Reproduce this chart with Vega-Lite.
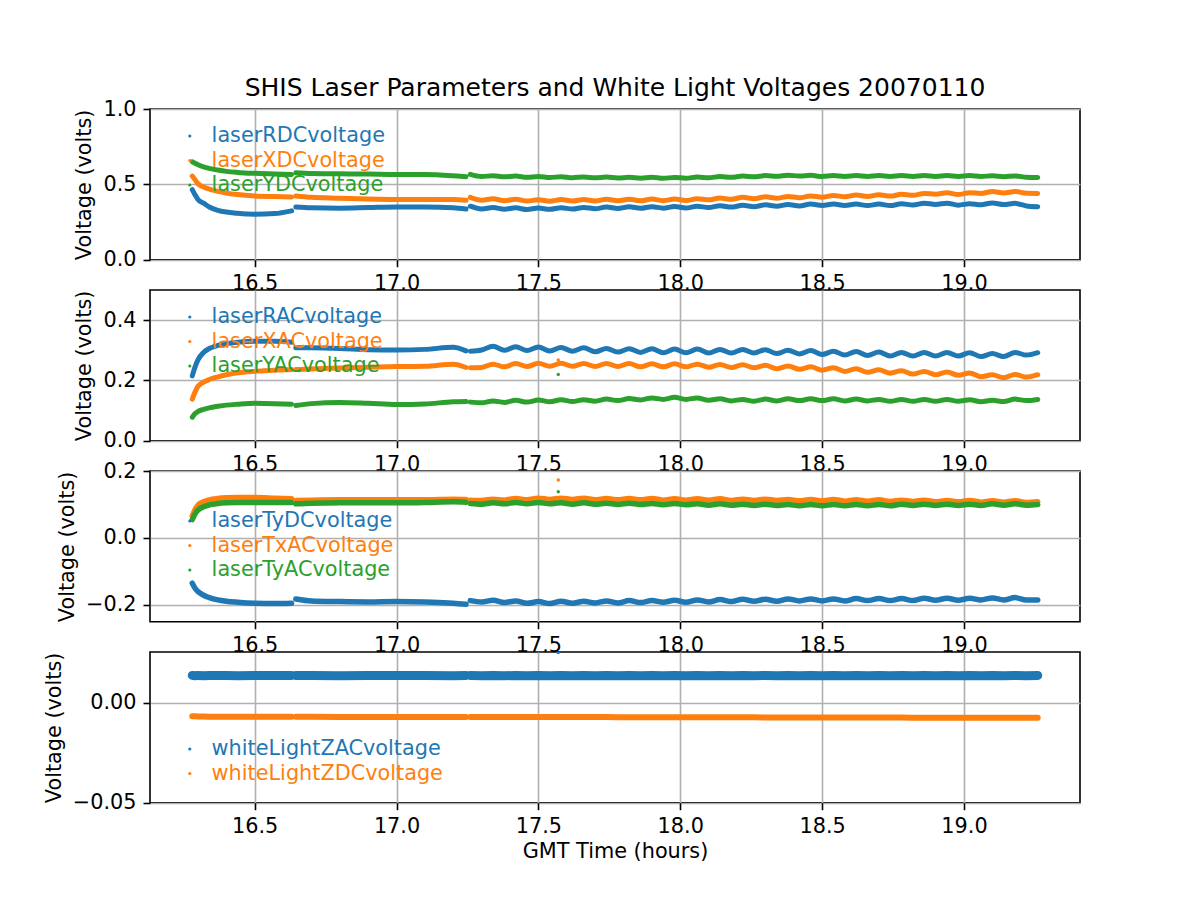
{
  "$schema": "https://vega.github.io/schema/vega-lite/v6.json",
  "background": "white",
  "padding": {"left": 42, "top": 75, "right": 10, "bottom": 10},
  "config": {
    "font": "DejaVu Sans",
    "view": {"stroke": "black", "strokeWidth": 1.6},
    "axis": {
      "labelFont": "DejaVu Sans", "labelFontSize": 20.8, "labelColor": "black",
      "titleFont": "DejaVu Sans", "titleFontSize": 20.8, "titleFontWeight": "normal", "titleColor": "black",
      "domain": false, "tickColor": "black", "tickWidth": 1.6, "tickSize": 7, "labelPadding": 7,
      "grid": true, "gridColor": "#b0b0b0", "gridWidth": 1.6, "gridOpacity": 1,
      "labelFlush": false, "labelOverlap": false
    },
    "axisY": {"titlePadding": 8},
    "axisX": {"titlePadding": 5},
    "legend": {
      "title": null, "orient": "none", "legendX": 29.4, "symbolType": "circle", "symbolSize": 10,
      "symbolStrokeWidth": 0, "labelFont": "DejaVu Sans", "labelFontSize": 20.8, "labelOffset": 11.4,
      "rowPadding": 2.5, "padding": 0, "labelLimit": 0
    }
  },
  "datasets": {
    "volts": [
      {"t":16.28,"seg":"a","laserRDCvoltage":0.465,"laserXDCvoltage":0.555,"laserYDCvoltage":0.650,"laserRACvoltage":0.215,"laserXACvoltage":0.138,"laserYACvoltage":0.078,"laserTyDCvoltage":-0.135,"laserTxACvoltage":0.065,"laserTyACvoltage":0.055,"whiteLightZACvoltage":0.0136,"whiteLightZDCvoltage":-0.0068},
      {"t":16.29,"seg":"a","laserRDCvoltage":0.430,"laserXDCvoltage":0.530,"laserYDCvoltage":0.640,"laserRACvoltage":0.245,"laserXACvoltage":0.162,"laserYACvoltage":0.090,"laserTyDCvoltage":-0.150,"laserTxACvoltage":0.085,"laserTyACvoltage":0.072,"whiteLightZACvoltage":0.0134,"whiteLightZDCvoltage":-0.0068},
      {"t":16.30,"seg":"a","laserRDCvoltage":0.400,"laserXDCvoltage":0.504,"laserYDCvoltage":0.630,"laserRACvoltage":0.268,"laserXACvoltage":0.180,"laserYACvoltage":0.097,"laserTyDCvoltage":-0.160,"laserTxACvoltage":0.098,"laserTyACvoltage":0.083,"whiteLightZACvoltage":0.0136,"whiteLightZDCvoltage":-0.0069},
      {"t":16.32,"seg":"a","laserRDCvoltage":0.375,"laserXDCvoltage":0.482,"laserYDCvoltage":0.616,"laserRACvoltage":0.293,"laserXACvoltage":0.194,"laserYACvoltage":0.104,"laserTyDCvoltage":-0.171,"laserTxACvoltage":0.108,"laserTyACvoltage":0.093,"whiteLightZACvoltage":0.0134,"whiteLightZDCvoltage":-0.0069},
      {"t":16.34,"seg":"a","laserRDCvoltage":0.350,"laserXDCvoltage":0.468,"laserYDCvoltage":0.606,"laserRACvoltage":0.306,"laserXACvoltage":0.203,"laserYACvoltage":0.109,"laserTyDCvoltage":-0.178,"laserTxACvoltage":0.114,"laserTyACvoltage":0.099,"whiteLightZACvoltage":0.0136,"whiteLightZDCvoltage":-0.0070},
      {"t":16.37,"seg":"a","laserRDCvoltage":0.328,"laserXDCvoltage":0.453,"laserYDCvoltage":0.595,"laserRACvoltage":0.316,"laserXACvoltage":0.212,"laserYACvoltage":0.114,"laserTyDCvoltage":-0.185,"laserTxACvoltage":0.118,"laserTyACvoltage":0.103,"whiteLightZACvoltage":0.0135,"whiteLightZDCvoltage":-0.0070},
      {"t":16.40,"seg":"a","laserRDCvoltage":0.316,"laserXDCvoltage":0.442,"laserYDCvoltage":0.586,"laserRACvoltage":0.322,"laserXACvoltage":0.219,"laserYACvoltage":0.118,"laserTyDCvoltage":-0.189,"laserTxACvoltage":0.120,"laserTyACvoltage":0.105,"whiteLightZACvoltage":0.0136,"whiteLightZDCvoltage":-0.0070},
      {"t":16.44,"seg":"a","laserRDCvoltage":0.308,"laserXDCvoltage":0.432,"laserYDCvoltage":0.579,"laserRACvoltage":0.327,"laserXACvoltage":0.225,"laserYACvoltage":0.121,"laserTyDCvoltage":-0.192,"laserTxACvoltage":0.121,"laserTyACvoltage":0.106,"whiteLightZACvoltage":0.0134,"whiteLightZDCvoltage":-0.0070},
      {"t":16.50,"seg":"a","laserRDCvoltage":0.302,"laserXDCvoltage":0.423,"laserYDCvoltage":0.573,"laserRACvoltage":0.330,"laserXACvoltage":0.230,"laserYACvoltage":0.124,"laserTyDCvoltage":-0.195,"laserTxACvoltage":0.121,"laserTyACvoltage":0.106,"whiteLightZACvoltage":0.0136,"whiteLightZDCvoltage":-0.0071},
      {"t":16.57,"seg":"a","laserRDCvoltage":0.306,"laserXDCvoltage":0.419,"laserYDCvoltage":0.569,"laserRACvoltage":0.330,"laserXACvoltage":0.234,"laserYACvoltage":0.123,"laserTyDCvoltage":-0.196,"laserTxACvoltage":0.119,"laserTyACvoltage":0.106,"whiteLightZACvoltage":0.0135,"whiteLightZDCvoltage":-0.0071},
      {"t":16.63,"seg":"a","laserRDCvoltage":0.324,"laserXDCvoltage":0.416,"laserYDCvoltage":0.566,"laserRACvoltage":0.327,"laserXACvoltage":0.236,"laserYACvoltage":0.121,"laserTyDCvoltage":-0.195,"laserTxACvoltage":0.117,"laserTyACvoltage":0.106,"whiteLightZACvoltage":0.0136,"whiteLightZDCvoltage":-0.0071},
      {"t":16.645,"seg":"b","laserRDCvoltage":0.350,"laserXDCvoltage":0.423,"laserYDCvoltage":0.577,"laserRACvoltage":0.308,"laserXACvoltage":0.236,"laserYACvoltage":0.117,"laserTyDCvoltage":-0.182,"laserTxACvoltage":0.112,"laserTyACvoltage":0.102,"whiteLightZACvoltage":0.0135,"whiteLightZDCvoltage":-0.0071},
      {"t":16.70,"seg":"b","laserRDCvoltage":0.345,"laserXDCvoltage":0.414,"laserYDCvoltage":0.572,"laserRACvoltage":0.308,"laserXACvoltage":0.238,"laserYACvoltage":0.123,"laserTyDCvoltage":-0.188,"laserTxACvoltage":0.113,"laserTyACvoltage":0.104,"whiteLightZACvoltage":0.0136,"whiteLightZDCvoltage":-0.0071},
      {"t":16.80,"seg":"b","laserRDCvoltage":0.342,"laserXDCvoltage":0.408,"laserYDCvoltage":0.570,"laserRACvoltage":0.306,"laserXACvoltage":0.241,"laserYACvoltage":0.127,"laserTyDCvoltage":-0.190,"laserTxACvoltage":0.114,"laserTyACvoltage":0.105,"whiteLightZACvoltage":0.0134,"whiteLightZDCvoltage":-0.0072},
      {"t":16.90,"seg":"b","laserRDCvoltage":0.346,"laserXDCvoltage":0.402,"laserYDCvoltage":0.568,"laserRACvoltage":0.302,"laserXACvoltage":0.244,"laserYACvoltage":0.124,"laserTyDCvoltage":-0.191,"laserTxACvoltage":0.114,"laserTyACvoltage":0.105,"whiteLightZACvoltage":0.0136,"whiteLightZDCvoltage":-0.0072},
      {"t":17.00,"seg":"b","laserRDCvoltage":0.350,"laserXDCvoltage":0.399,"laserYDCvoltage":0.565,"laserRACvoltage":0.301,"laserXACvoltage":0.246,"laserYACvoltage":0.120,"laserTyDCvoltage":-0.190,"laserTxACvoltage":0.114,"laserTyACvoltage":0.105,"whiteLightZACvoltage":0.0135,"whiteLightZDCvoltage":-0.0072},
      {"t":17.10,"seg":"b","laserRDCvoltage":0.350,"laserXDCvoltage":0.400,"laserYDCvoltage":0.565,"laserRACvoltage":0.303,"laserXACvoltage":0.247,"laserYACvoltage":0.122,"laserTyDCvoltage":-0.191,"laserTxACvoltage":0.114,"laserTyACvoltage":0.106,"whiteLightZACvoltage":0.0136,"whiteLightZDCvoltage":-0.0072},
      {"t":17.20,"seg":"b","laserRDCvoltage":0.345,"laserXDCvoltage":0.399,"laserYDCvoltage":0.557,"laserRACvoltage":0.310,"laserXACvoltage":0.254,"laserYACvoltage":0.129,"laserTyDCvoltage":-0.195,"laserTxACvoltage":0.116,"laserTyACvoltage":0.108,"whiteLightZACvoltage":0.0134,"whiteLightZDCvoltage":-0.0072},
      {"t":17.245,"seg":"b","laserRDCvoltage":0.336,"laserXDCvoltage":0.394,"laserYDCvoltage":0.551,"laserRACvoltage":0.298,"laserXACvoltage":0.243,"laserYACvoltage":0.130,"laserTyDCvoltage":-0.198,"laserTxACvoltage":0.115,"laserTyACvoltage":0.107,"whiteLightZACvoltage":0.0136,"whiteLightZDCvoltage":-0.0072},
      {"t":17.26,"seg":"c","laserRDCvoltage":0.355,"laserXDCvoltage":0.414,"laserYDCvoltage":0.566,"laserRACvoltage":0.297,"laserXACvoltage":0.242,"laserYACvoltage":0.128,"laserTyDCvoltage":-0.187,"laserTxACvoltage":0.113,"laserTyACvoltage":0.103,"whiteLightZACvoltage":0.0136,"whiteLightZDCvoltage":-0.0072},
      {"t":17.30,"seg":"c","laserRDCvoltage":0.337,"laserXDCvoltage":0.395,"laserYDCvoltage":0.552,"laserRACvoltage":0.301,"laserXACvoltage":0.243,"laserYACvoltage":0.126,"laserTyDCvoltage":-0.191,"laserTxACvoltage":0.112,"laserTyACvoltage":0.101,"whiteLightZACvoltage":0.0134,"whiteLightZDCvoltage":-0.0072},
      {"t":17.34,"seg":"c","laserRDCvoltage":0.346,"laserXDCvoltage":0.404,"laserYDCvoltage":0.557,"laserRACvoltage":0.313,"laserXACvoltage":0.254,"laserYACvoltage":0.132,"laserTyDCvoltage":-0.186,"laserTxACvoltage":0.116,"laserTyACvoltage":0.105,"whiteLightZACvoltage":0.0136,"whiteLightZDCvoltage":-0.0072},
      {"t":17.38,"seg":"c","laserRDCvoltage":0.335,"laserXDCvoltage":0.392,"laserYDCvoltage":0.550,"laserRACvoltage":0.300,"laserXACvoltage":0.245,"laserYACvoltage":0.127,"laserTyDCvoltage":-0.193,"laserTxACvoltage":0.113,"laserTyACvoltage":0.102,"whiteLightZACvoltage":0.0134,"whiteLightZDCvoltage":-0.0072},
      {"t":17.42,"seg":"c","laserRDCvoltage":0.344,"laserXDCvoltage":0.401,"laserYDCvoltage":0.555,"laserRACvoltage":0.312,"laserXACvoltage":0.256,"laserYACvoltage":0.134,"laserTyDCvoltage":-0.188,"laserTxACvoltage":0.118,"laserTyACvoltage":0.106,"whiteLightZACvoltage":0.0136,"whiteLightZDCvoltage":-0.0072},
      {"t":17.46,"seg":"c","laserRDCvoltage":0.333,"laserXDCvoltage":0.389,"laserYDCvoltage":0.547,"laserRACvoltage":0.299,"laserXACvoltage":0.246,"laserYACvoltage":0.128,"laserTyDCvoltage":-0.195,"laserTxACvoltage":0.114,"laserTyACvoltage":0.102,"whiteLightZACvoltage":0.0134,"whiteLightZDCvoltage":-0.0072},
      {"t":17.50,"seg":"c","laserRDCvoltage":0.343,"laserXDCvoltage":0.398,"laserYDCvoltage":0.552,"laserRACvoltage":0.311,"laserXACvoltage":0.257,"laserYACvoltage":0.135,"laserTyDCvoltage":-0.190,"laserTxACvoltage":0.119,"laserTyACvoltage":0.106,"whiteLightZACvoltage":0.0136,"whiteLightZDCvoltage":-0.0072},
      {"t":17.54,"seg":"c","laserRDCvoltage":0.334,"laserXDCvoltage":0.388,"laserYDCvoltage":0.545,"laserRACvoltage":0.298,"laserXACvoltage":0.247,"laserYACvoltage":0.129,"laserTyDCvoltage":-0.196,"laserTxACvoltage":0.115,"laserTyACvoltage":0.102,"whiteLightZACvoltage":0.0134,"whiteLightZDCvoltage":-0.0072},
      {"t":17.58,"seg":"c","laserRDCvoltage":0.345,"laserXDCvoltage":0.399,"laserYDCvoltage":0.551,"laserRACvoltage":0.309,"laserXACvoltage":0.257,"laserYACvoltage":0.136,"laserTyDCvoltage":-0.189,"laserTxACvoltage":0.119,"laserTyACvoltage":0.105,"whiteLightZACvoltage":0.0136,"whiteLightZDCvoltage":-0.0072},
      {"t":17.62,"seg":"c","laserRDCvoltage":0.336,"laserXDCvoltage":0.389,"laserYDCvoltage":0.544,"laserRACvoltage":0.297,"laserXACvoltage":0.247,"laserYACvoltage":0.130,"laserTyDCvoltage":-0.195,"laserTxACvoltage":0.115,"laserTyACvoltage":0.101,"whiteLightZACvoltage":0.0134,"whiteLightZDCvoltage":-0.0072},
      {"t":17.66,"seg":"c","laserRDCvoltage":0.347,"laserXDCvoltage":0.400,"laserYDCvoltage":0.549,"laserRACvoltage":0.308,"laserXACvoltage":0.256,"laserYACvoltage":0.136,"laserTyDCvoltage":-0.189,"laserTxACvoltage":0.119,"laserTyACvoltage":0.105,"whiteLightZACvoltage":0.0136,"whiteLightZDCvoltage":-0.0072},
      {"t":17.70,"seg":"c","laserRDCvoltage":0.338,"laserXDCvoltage":0.390,"laserYDCvoltage":0.543,"laserRACvoltage":0.295,"laserXACvoltage":0.246,"laserYACvoltage":0.131,"laserTyDCvoltage":-0.194,"laserTxACvoltage":0.114,"laserTyACvoltage":0.101,"whiteLightZACvoltage":0.0134,"whiteLightZDCvoltage":-0.0072},
      {"t":17.74,"seg":"c","laserRDCvoltage":0.350,"laserXDCvoltage":0.401,"laserYDCvoltage":0.548,"laserRACvoltage":0.306,"laserXACvoltage":0.256,"laserYACvoltage":0.138,"laserTyDCvoltage":-0.188,"laserTxACvoltage":0.118,"laserTyACvoltage":0.104,"whiteLightZACvoltage":0.0136,"whiteLightZDCvoltage":-0.0072},
      {"t":17.78,"seg":"c","laserRDCvoltage":0.340,"laserXDCvoltage":0.391,"laserYDCvoltage":0.542,"laserRACvoltage":0.294,"laserXACvoltage":0.246,"laserYACvoltage":0.133,"laserTyDCvoltage":-0.194,"laserTxACvoltage":0.114,"laserTyACvoltage":0.100,"whiteLightZACvoltage":0.0134,"whiteLightZDCvoltage":-0.0073},
      {"t":17.82,"seg":"c","laserRDCvoltage":0.351,"laserXDCvoltage":0.401,"laserYDCvoltage":0.547,"laserRACvoltage":0.305,"laserXACvoltage":0.256,"laserYACvoltage":0.140,"laserTyDCvoltage":-0.187,"laserTxACvoltage":0.118,"laserTyACvoltage":0.104,"whiteLightZACvoltage":0.0136,"whiteLightZDCvoltage":-0.0073},
      {"t":17.86,"seg":"c","laserRDCvoltage":0.341,"laserXDCvoltage":0.391,"laserYDCvoltage":0.541,"laserRACvoltage":0.293,"laserXACvoltage":0.245,"laserYACvoltage":0.135,"laserTyDCvoltage":-0.193,"laserTxACvoltage":0.114,"laserTyACvoltage":0.100,"whiteLightZACvoltage":0.0134,"whiteLightZDCvoltage":-0.0073},
      {"t":17.90,"seg":"c","laserRDCvoltage":0.352,"laserXDCvoltage":0.402,"laserYDCvoltage":0.547,"laserRACvoltage":0.305,"laserXACvoltage":0.255,"laserYACvoltage":0.142,"laserTyDCvoltage":-0.187,"laserTxACvoltage":0.118,"laserTyACvoltage":0.103,"whiteLightZACvoltage":0.0136,"whiteLightZDCvoltage":-0.0073},
      {"t":17.94,"seg":"c","laserRDCvoltage":0.342,"laserXDCvoltage":0.392,"laserYDCvoltage":0.540,"laserRACvoltage":0.292,"laserXACvoltage":0.245,"laserYACvoltage":0.137,"laserTyDCvoltage":-0.192,"laserTxACvoltage":0.113,"laserTyACvoltage":0.099,"whiteLightZACvoltage":0.0134,"whiteLightZDCvoltage":-0.0073},
      {"t":17.98,"seg":"c","laserRDCvoltage":0.353,"laserXDCvoltage":0.402,"laserYDCvoltage":0.546,"laserRACvoltage":0.304,"laserXACvoltage":0.255,"laserYACvoltage":0.144,"laserTyDCvoltage":-0.186,"laserTxACvoltage":0.117,"laserTyACvoltage":0.103,"whiteLightZACvoltage":0.0136,"whiteLightZDCvoltage":-0.0073},
      {"t":18.02,"seg":"c","laserRDCvoltage":0.343,"laserXDCvoltage":0.393,"laserYDCvoltage":0.541,"laserRACvoltage":0.292,"laserXACvoltage":0.245,"laserYACvoltage":0.137,"laserTyDCvoltage":-0.192,"laserTxACvoltage":0.113,"laserTyACvoltage":0.099,"whiteLightZACvoltage":0.0134,"whiteLightZDCvoltage":-0.0073},
      {"t":18.06,"seg":"c","laserRDCvoltage":0.355,"laserXDCvoltage":0.405,"laserYDCvoltage":0.548,"laserRACvoltage":0.304,"laserXACvoltage":0.254,"laserYACvoltage":0.142,"laserTyDCvoltage":-0.185,"laserTxACvoltage":0.117,"laserTyACvoltage":0.102,"whiteLightZACvoltage":0.0136,"whiteLightZDCvoltage":-0.0073},
      {"t":18.10,"seg":"c","laserRDCvoltage":0.346,"laserXDCvoltage":0.397,"laserYDCvoltage":0.544,"laserRACvoltage":0.291,"laserXACvoltage":0.244,"laserYACvoltage":0.134,"laserTyDCvoltage":-0.191,"laserTxACvoltage":0.113,"laserTyACvoltage":0.098,"whiteLightZACvoltage":0.0134,"whiteLightZDCvoltage":-0.0073},
      {"t":18.14,"seg":"c","laserRDCvoltage":0.358,"laserXDCvoltage":0.409,"laserYDCvoltage":0.552,"laserRACvoltage":0.303,"laserXACvoltage":0.253,"laserYACvoltage":0.139,"laserTyDCvoltage":-0.184,"laserTxACvoltage":0.117,"laserTyACvoltage":0.102,"whiteLightZACvoltage":0.0136,"whiteLightZDCvoltage":-0.0073},
      {"t":18.18,"seg":"c","laserRDCvoltage":0.349,"laserXDCvoltage":0.401,"laserYDCvoltage":0.547,"laserRACvoltage":0.291,"laserXACvoltage":0.243,"laserYACvoltage":0.132,"laserTyDCvoltage":-0.190,"laserTxACvoltage":0.112,"laserTyACvoltage":0.098,"whiteLightZACvoltage":0.0134,"whiteLightZDCvoltage":-0.0073},
      {"t":18.22,"seg":"c","laserRDCvoltage":0.361,"laserXDCvoltage":0.414,"laserYDCvoltage":0.555,"laserRACvoltage":0.303,"laserXACvoltage":0.252,"laserYACvoltage":0.137,"laserTyDCvoltage":-0.183,"laserTxACvoltage":0.116,"laserTyACvoltage":0.101,"whiteLightZACvoltage":0.0136,"whiteLightZDCvoltage":-0.0073},
      {"t":18.26,"seg":"c","laserRDCvoltage":0.352,"laserXDCvoltage":0.405,"laserYDCvoltage":0.550,"laserRACvoltage":0.291,"laserXACvoltage":0.242,"laserYACvoltage":0.131,"laserTyDCvoltage":-0.189,"laserTxACvoltage":0.112,"laserTyACvoltage":0.097,"whiteLightZACvoltage":0.0134,"whiteLightZDCvoltage":-0.0073},
      {"t":18.30,"seg":"c","laserRDCvoltage":0.364,"laserXDCvoltage":0.417,"laserYDCvoltage":0.558,"laserRACvoltage":0.302,"laserXACvoltage":0.250,"laserYACvoltage":0.138,"laserTyDCvoltage":-0.183,"laserTxACvoltage":0.116,"laserTyACvoltage":0.101,"whiteLightZACvoltage":0.0136,"whiteLightZDCvoltage":-0.0074},
      {"t":18.34,"seg":"c","laserRDCvoltage":0.355,"laserXDCvoltage":0.408,"laserYDCvoltage":0.553,"laserRACvoltage":0.289,"laserXACvoltage":0.239,"laserYACvoltage":0.132,"laserTyDCvoltage":-0.189,"laserTxACvoltage":0.112,"laserTyACvoltage":0.097,"whiteLightZACvoltage":0.0134,"whiteLightZDCvoltage":-0.0074},
      {"t":18.38,"seg":"c","laserRDCvoltage":0.366,"laserXDCvoltage":0.420,"laserYDCvoltage":0.561,"laserRACvoltage":0.300,"laserXACvoltage":0.248,"laserYACvoltage":0.139,"laserTyDCvoltage":-0.182,"laserTxACvoltage":0.115,"laserTyACvoltage":0.100,"whiteLightZACvoltage":0.0136,"whiteLightZDCvoltage":-0.0074},
      {"t":18.42,"seg":"c","laserRDCvoltage":0.357,"laserXDCvoltage":0.411,"laserYDCvoltage":0.555,"laserRACvoltage":0.288,"laserXACvoltage":0.237,"laserYACvoltage":0.133,"laserTyDCvoltage":-0.188,"laserTxACvoltage":0.111,"laserTyACvoltage":0.096,"whiteLightZACvoltage":0.0134,"whiteLightZDCvoltage":-0.0074},
      {"t":18.46,"seg":"c","laserRDCvoltage":0.369,"laserXDCvoltage":0.423,"laserYDCvoltage":0.560,"laserRACvoltage":0.299,"laserXACvoltage":0.245,"laserYACvoltage":0.139,"laserTyDCvoltage":-0.182,"laserTxACvoltage":0.115,"laserTyACvoltage":0.100,"whiteLightZACvoltage":0.0136,"whiteLightZDCvoltage":-0.0074},
      {"t":18.50,"seg":"c","laserRDCvoltage":0.360,"laserXDCvoltage":0.415,"laserYDCvoltage":0.552,"laserRACvoltage":0.286,"laserXACvoltage":0.234,"laserYACvoltage":0.133,"laserTyDCvoltage":-0.188,"laserTxACvoltage":0.111,"laserTyACvoltage":0.096,"whiteLightZACvoltage":0.0134,"whiteLightZDCvoltage":-0.0074},
      {"t":18.54,"seg":"c","laserRDCvoltage":0.370,"laserXDCvoltage":0.426,"laserYDCvoltage":0.558,"laserRACvoltage":0.297,"laserXACvoltage":0.242,"laserYACvoltage":0.139,"laserTyDCvoltage":-0.182,"laserTxACvoltage":0.115,"laserTyACvoltage":0.100,"whiteLightZACvoltage":0.0136,"whiteLightZDCvoltage":-0.0074},
      {"t":18.58,"seg":"c","laserRDCvoltage":0.360,"laserXDCvoltage":0.418,"laserYDCvoltage":0.552,"laserRACvoltage":0.284,"laserXACvoltage":0.230,"laserYACvoltage":0.132,"laserTyDCvoltage":-0.188,"laserTxACvoltage":0.110,"laserTyACvoltage":0.096,"whiteLightZACvoltage":0.0134,"whiteLightZDCvoltage":-0.0074},
      {"t":18.62,"seg":"c","laserRDCvoltage":0.369,"laserXDCvoltage":0.429,"laserYDCvoltage":0.558,"laserRACvoltage":0.296,"laserXACvoltage":0.239,"laserYACvoltage":0.138,"laserTyDCvoltage":-0.181,"laserTxACvoltage":0.114,"laserTyACvoltage":0.100,"whiteLightZACvoltage":0.0136,"whiteLightZDCvoltage":-0.0074},
      {"t":18.66,"seg":"c","laserRDCvoltage":0.359,"laserXDCvoltage":0.420,"laserYDCvoltage":0.552,"laserRACvoltage":0.283,"laserXACvoltage":0.227,"laserYACvoltage":0.132,"laserTyDCvoltage":-0.187,"laserTxACvoltage":0.110,"laserTyACvoltage":0.096,"whiteLightZACvoltage":0.0134,"whiteLightZDCvoltage":-0.0074},
      {"t":18.70,"seg":"c","laserRDCvoltage":0.369,"laserXDCvoltage":0.431,"laserYDCvoltage":0.558,"laserRACvoltage":0.294,"laserXACvoltage":0.235,"laserYACvoltage":0.137,"laserTyDCvoltage":-0.181,"laserTxACvoltage":0.114,"laserTyACvoltage":0.100,"whiteLightZACvoltage":0.0136,"whiteLightZDCvoltage":-0.0074},
      {"t":18.74,"seg":"c","laserRDCvoltage":0.359,"laserXDCvoltage":0.422,"laserYDCvoltage":0.552,"laserRACvoltage":0.281,"laserXACvoltage":0.224,"laserYACvoltage":0.131,"laserTyDCvoltage":-0.187,"laserTxACvoltage":0.109,"laserTyACvoltage":0.096,"whiteLightZACvoltage":0.0134,"whiteLightZDCvoltage":-0.0074},
      {"t":18.78,"seg":"c","laserRDCvoltage":0.371,"laserXDCvoltage":0.434,"laserYDCvoltage":0.558,"laserRACvoltage":0.293,"laserXACvoltage":0.232,"laserYACvoltage":0.137,"laserTyDCvoltage":-0.181,"laserTxACvoltage":0.113,"laserTyACvoltage":0.101,"whiteLightZACvoltage":0.0136,"whiteLightZDCvoltage":-0.0074},
      {"t":18.82,"seg":"c","laserRDCvoltage":0.363,"laserXDCvoltage":0.427,"laserYDCvoltage":0.552,"laserRACvoltage":0.281,"laserXACvoltage":0.221,"laserYACvoltage":0.131,"laserTyDCvoltage":-0.187,"laserTxACvoltage":0.109,"laserTyACvoltage":0.097,"whiteLightZACvoltage":0.0134,"whiteLightZDCvoltage":-0.0075},
      {"t":18.86,"seg":"c","laserRDCvoltage":0.375,"laserXDCvoltage":0.440,"laserYDCvoltage":0.558,"laserRACvoltage":0.293,"laserXACvoltage":0.230,"laserYACvoltage":0.137,"laserTyDCvoltage":-0.180,"laserTxACvoltage":0.113,"laserTyACvoltage":0.101,"whiteLightZACvoltage":0.0136,"whiteLightZDCvoltage":-0.0075},
      {"t":18.90,"seg":"c","laserRDCvoltage":0.367,"laserXDCvoltage":0.435,"laserYDCvoltage":0.552,"laserRACvoltage":0.281,"laserXACvoltage":0.219,"laserYACvoltage":0.131,"laserTyDCvoltage":-0.186,"laserTxACvoltage":0.108,"laserTyACvoltage":0.097,"whiteLightZACvoltage":0.0134,"whiteLightZDCvoltage":-0.0075},
      {"t":18.94,"seg":"c","laserRDCvoltage":0.375,"laserXDCvoltage":0.444,"laserYDCvoltage":0.558,"laserRACvoltage":0.293,"laserXACvoltage":0.228,"laserYACvoltage":0.137,"laserTyDCvoltage":-0.180,"laserTxACvoltage":0.112,"laserTyACvoltage":0.101,"whiteLightZACvoltage":0.0136,"whiteLightZDCvoltage":-0.0075},
      {"t":18.98,"seg":"c","laserRDCvoltage":0.362,"laserXDCvoltage":0.432,"laserYDCvoltage":0.552,"laserRACvoltage":0.281,"laserXACvoltage":0.217,"laserYACvoltage":0.131,"laserTyDCvoltage":-0.186,"laserTxACvoltage":0.108,"laserTyACvoltage":0.097,"whiteLightZACvoltage":0.0134,"whiteLightZDCvoltage":-0.0075},
      {"t":19.02,"seg":"c","laserRDCvoltage":0.372,"laserXDCvoltage":0.445,"laserYDCvoltage":0.558,"laserRACvoltage":0.292,"laserXACvoltage":0.225,"laserYACvoltage":0.136,"laserTyDCvoltage":-0.180,"laserTxACvoltage":0.112,"laserTyACvoltage":0.101,"whiteLightZACvoltage":0.0136,"whiteLightZDCvoltage":-0.0075},
      {"t":19.06,"seg":"c","laserRDCvoltage":0.365,"laserXDCvoltage":0.439,"laserYDCvoltage":0.552,"laserRACvoltage":0.279,"laserXACvoltage":0.212,"laserYACvoltage":0.129,"laserTyDCvoltage":-0.185,"laserTxACvoltage":0.107,"laserTyACvoltage":0.097,"whiteLightZACvoltage":0.0134,"whiteLightZDCvoltage":-0.0075},
      {"t":19.10,"seg":"c","laserRDCvoltage":0.377,"laserXDCvoltage":0.453,"laserYDCvoltage":0.557,"laserRACvoltage":0.289,"laserXACvoltage":0.219,"laserYACvoltage":0.134,"laserTyDCvoltage":-0.179,"laserTxACvoltage":0.111,"laserTyACvoltage":0.102,"whiteLightZACvoltage":0.0136,"whiteLightZDCvoltage":-0.0075},
      {"t":19.14,"seg":"c","laserRDCvoltage":0.366,"laserXDCvoltage":0.443,"laserYDCvoltage":0.551,"laserRACvoltage":0.279,"laserXACvoltage":0.209,"laserYACvoltage":0.130,"laserTyDCvoltage":-0.185,"laserTxACvoltage":0.107,"laserTyACvoltage":0.098,"whiteLightZACvoltage":0.0134,"whiteLightZDCvoltage":-0.0075},
      {"t":19.18,"seg":"c","laserRDCvoltage":0.374,"laserXDCvoltage":0.453,"laserYDCvoltage":0.556,"laserRACvoltage":0.293,"laserXACvoltage":0.220,"laserYACvoltage":0.138,"laserTyDCvoltage":-0.178,"laserTxACvoltage":0.111,"laserTyACvoltage":0.102,"whiteLightZACvoltage":0.0136,"whiteLightZDCvoltage":-0.0075},
      {"t":19.22,"seg":"c","laserRDCvoltage":0.357,"laserXDCvoltage":0.441,"laserYDCvoltage":0.547,"laserRACvoltage":0.284,"laserXACvoltage":0.211,"laserYACvoltage":0.133,"laserTyDCvoltage":-0.185,"laserTxACvoltage":0.106,"laserTyACvoltage":0.098,"whiteLightZACvoltage":0.0134,"whiteLightZDCvoltage":-0.0075},
      {"t":19.26,"seg":"c","laserRDCvoltage":0.352,"laserXDCvoltage":0.440,"laserYDCvoltage":0.545,"laserRACvoltage":0.292,"laserXACvoltage":0.219,"laserYACvoltage":0.137,"laserTyDCvoltage":-0.185,"laserTxACvoltage":0.108,"laserTyACvoltage":0.100,"whiteLightZACvoltage":0.0136,"whiteLightZDCvoltage":-0.0075},
      {"t":17.57,"seg":"o","laserXACvoltage":0.268,"laserYACvoltage":0.220,"laserTxACvoltage":0.173,"laserTyACvoltage":0.138,"whiteLightZACvoltage":0.025}
    ]
  },
  "spacing": 30,
  "bounds": "flush",
  "resolve": {
    "scale": {"x": "independent", "y": "independent", "color": "independent"},
    "legend": {"color": "independent"}
  },
  "vconcat": [
    {
      "width": 930, "height": 150.7,
      "title": {"text": "SHIS Laser Parameters and White Light Voltages 20070110", "font": "DejaVu Sans", "fontSize": 25, "fontWeight": "normal", "color": "black", "anchor": "middle", "frame": "group", "baseline": "alphabetic", "offset": -23},
      "data": {"name": "volts"},
      "transform": [
        {"filter": "datum.seg != 'o'"},
        {"fold": ["laserRDCvoltage", "laserXDCvoltage", "laserYDCvoltage"], "as": ["series", "value"]}
      ],
      "mark": {"type": "line", "strokeWidth": 5, "strokeCap": "round", "strokeJoin": "round", "interpolate": "monotone", "clip": true},
      "encoding": {
        "x": {"field": "t", "type": "quantitative", "scale": {"domain": [16.131, 19.409], "nice": false, "zero": false},
              "axis": {"values": [16.5, 17, 17.5, 18, 18.5, 19], "format": ".1f", "title": null}},
        "y": {"field": "value", "type": "quantitative", "scale": {"domain": [0, 1], "nice": false, "zero": false},
              "axis": {"values": [0, 0.5, 1], "format": ".1f", "title": "Voltage (volts)"}},
        "detail": {"field": "seg"},
        "color": {"field": "series", "type": "nominal",
                  "scale": {"domain": ["laserRDCvoltage", "laserXDCvoltage", "laserYDCvoltage"], "range": ["#1f77b4", "#ff7f0e", "#2ca02c"]},
                  "legend": {"legendY": 16.6,
                             "encode": {
                               "labels": {"update": {"fill": {"signal": "datum.value == 'laserRDCvoltage' ? '#1f77b4' : datum.value == 'laserXDCvoltage' ? '#ff7f0e' : '#2ca02c'"}}},
                               "symbols": {"update": {"fill": {"signal": "datum.value == 'laserRDCvoltage' ? '#1f77b4' : datum.value == 'laserXDCvoltage' ? '#ff7f0e' : '#2ca02c'"}, "strokeWidth": {"value": 0}, "opacity": {"value": 1}}}
                             }}}
      }
    },
    {
      "width": 930, "height": 150.7,
      "data": {"name": "volts"},
      "transform": [
        {"fold": ["laserRACvoltage", "laserXACvoltage", "laserYACvoltage"], "as": ["series", "value"]}
      ],
      "encoding": {
        "x": {"field": "t", "type": "quantitative", "scale": {"domain": [16.131, 19.409], "nice": false, "zero": false},
              "axis": {"values": [16.5, 17, 17.5, 18, 18.5, 19], "format": ".1f", "title": null}},
        "y": {"field": "value", "type": "quantitative", "scale": {"domain": [0, 0.5], "nice": false, "zero": false},
              "axis": {"values": [0, 0.2, 0.4], "format": ".1f", "title": "Voltage (volts)"}},
        "color": {"field": "series", "type": "nominal",
                  "scale": {"domain": ["laserRACvoltage", "laserXACvoltage", "laserYACvoltage"], "range": ["#1f77b4", "#ff7f0e", "#2ca02c"]},
                  "legend": {"legendY": 16.6,
                             "encode": {
                               "labels": {"update": {"fill": {"signal": "datum.value == 'laserRACvoltage' ? '#1f77b4' : datum.value == 'laserXACvoltage' ? '#ff7f0e' : '#2ca02c'"}}},
                               "symbols": {"update": {"fill": {"signal": "datum.value == 'laserRACvoltage' ? '#1f77b4' : datum.value == 'laserXACvoltage' ? '#ff7f0e' : '#2ca02c'"}, "strokeWidth": {"value": 0}, "opacity": {"value": 1}}}
                             }}}
      },
      "layer": [
        {"transform": [{"filter": "datum.seg != 'o'"}],
         "mark": {"type": "line", "strokeWidth": 5, "strokeCap": "round", "strokeJoin": "round", "interpolate": "monotone", "clip": true},
         "encoding": {"detail": {"field": "seg"}}},
        {"transform": [{"filter": "datum.seg == 'o'"}],
         "mark": {"type": "point", "filled": true, "size": 12, "opacity": 1, "clip": true}}
      ]
    },
    {
      "width": 930, "height": 150.7,
      "data": {"name": "volts"},
      "transform": [
        {"fold": ["laserTyDCvoltage", "laserTxACvoltage", "laserTyACvoltage"], "as": ["series", "value"]}
      ],
      "encoding": {
        "x": {"field": "t", "type": "quantitative", "scale": {"domain": [16.131, 19.409], "nice": false, "zero": false},
              "axis": {"values": [16.5, 17, 17.5, 18, 18.5, 19], "format": ".1f", "title": null}},
        "y": {"field": "value", "type": "quantitative", "scale": {"domain": [-0.25, 0.2], "nice": false, "zero": false},
              "axis": {"values": [-0.2, 0, 0.2], "format": ".1f", "title": "Voltage (volts)"}},
        "color": {"field": "series", "type": "nominal",
                  "scale": {"domain": ["laserTyDCvoltage", "laserTxACvoltage", "laserTyACvoltage"], "range": ["#1f77b4", "#ff7f0e", "#2ca02c"]},
                  "legend": {"legendY": 39.6,
                             "encode": {
                               "labels": {"update": {"fill": {"signal": "datum.value == 'laserTyDCvoltage' ? '#1f77b4' : datum.value == 'laserTxACvoltage' ? '#ff7f0e' : '#2ca02c'"}}},
                               "symbols": {"update": {"fill": {"signal": "datum.value == 'laserTyDCvoltage' ? '#1f77b4' : datum.value == 'laserTxACvoltage' ? '#ff7f0e' : '#2ca02c'"}, "strokeWidth": {"value": 0}, "opacity": {"value": 1}}}
                             }}}
      },
      "layer": [
        {"transform": [{"filter": "datum.seg != 'o'"}],
         "mark": {"type": "line", "strokeWidth": 5.5, "strokeCap": "round", "strokeJoin": "round", "interpolate": "monotone", "clip": true},
         "encoding": {"detail": {"field": "seg"}}},
        {"transform": [{"filter": "datum.seg == 'o'"}],
         "mark": {"type": "point", "filled": true, "size": 12, "opacity": 1, "clip": true}}
      ]
    },
    {
      "width": 930, "height": 150.7,
      "data": {"name": "volts"},
      "transform": [
        {"fold": ["whiteLightZACvoltage", "whiteLightZDCvoltage"], "as": ["series", "value"]}
      ],
      "encoding": {
        "x": {"field": "t", "type": "quantitative", "scale": {"domain": [16.131, 19.409], "nice": false, "zero": false},
              "axis": {"values": [16.5, 17, 17.5, 18, 18.5, 19], "format": ".1f", "title": "GMT Time (hours)"}},
        "y": {"field": "value", "type": "quantitative", "scale": {"domain": [-0.05, 0.0253], "nice": false, "zero": false},
              "axis": {"values": [-0.05, 0], "format": ".2f", "title": "Voltage (volts)"}},
        "color": {"field": "series", "type": "nominal",
                  "scale": {"domain": ["whiteLightZACvoltage", "whiteLightZDCvoltage"], "range": ["#1f77b4", "#ff7f0e"]},
                  "legend": {"legendY": 86.6,
                             "encode": {
                               "labels": {"update": {"fill": {"signal": "datum.value == 'whiteLightZACvoltage' ? '#1f77b4' : '#ff7f0e'"}}},
                               "symbols": {"update": {"fill": {"signal": "datum.value == 'whiteLightZACvoltage' ? '#1f77b4' : '#ff7f0e'"}, "strokeWidth": {"value": 0}, "opacity": {"value": 1}}}
                             }}}
      },
      "layer": [
        {"transform": [{"filter": "datum.seg != 'o' && datum.series == 'whiteLightZACvoltage'"}],
         "mark": {"type": "line", "strokeWidth": 9, "strokeCap": "round", "strokeJoin": "round", "clip": true},
         "encoding": {"detail": {"field": "seg"}}},
        {"transform": [{"filter": "datum.seg != 'o' && datum.series == 'whiteLightZDCvoltage'"}],
         "mark": {"type": "line", "strokeWidth": 6, "strokeCap": "round", "strokeJoin": "round", "clip": true},
         "encoding": {"detail": {"field": "seg"}}},
        {"transform": [{"filter": "datum.seg == 'o'"}],
         "mark": {"type": "point", "filled": true, "size": 12, "opacity": 1, "clip": true}}
      ]
    }
  ]
}
